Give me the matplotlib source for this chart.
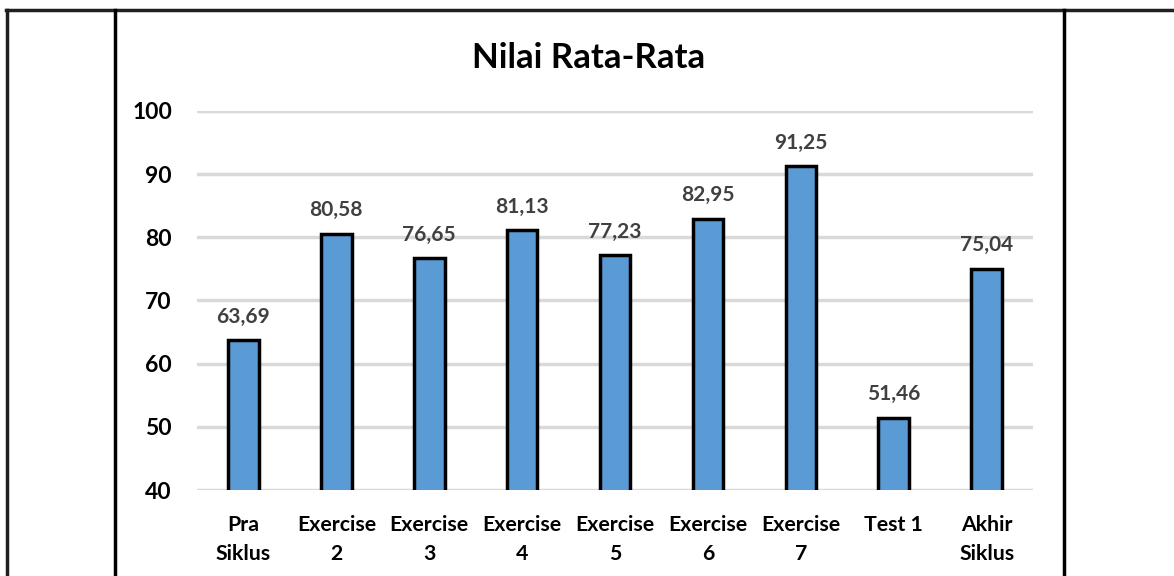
# Nilai Rata-Rata bar chart
import matplotlib.pyplot as plt
from matplotlib.lines import Line2D

# DATA
categories = ["Pra\nSiklus", "Exercise\n2", "Exercise\n3", "Exercise\n4", "Exercise\n5",
              "Exercise\n6", "Exercise\n7", "Test 1", "Akhir\nSiklus"]
values = [63.69, 80.58, 76.65, 81.13, 77.23, 82.95, 91.25, 51.46, 75.04]
yticks = [40, 50, 60, 70, 80, 90, 100]

plt.rcParams['font.family'] = ['Lato', 'DejaVu Sans']

fig = plt.figure(figsize=(11.74, 5.76), dpi=100)
ax = fig.add_axes([0.1678, 0.1493, 0.7122, 0.6580])

x = range(len(categories))
ax.bar(x, values, width=0.33, color="#5B9BD5", edgecolor="black", linewidth=2.5, zorder=3)

# data labels with comma decimals
for xi, v in zip(x, values):
    ax.text(xi, v + 2.1, f"{v:.2f}".replace(".", ","), ha="center", va="bottom",
            fontsize=15, fontweight="bold", color="#404040")

ax.set_ylim(40, 100)
ax.set_xlim(-0.5, len(categories) - 0.5)
ax.set_yticks(yticks)
ax.set_yticklabels([str(t) for t in yticks], fontsize=16.5, fontweight="bold")
ax.set_xticks(list(x))
ax.set_xticklabels(categories, fontsize=15.3, fontweight="bold", linespacing=1.55)
ax.tick_params(axis="y", length=0, pad=18)
ax.tick_params(axis="x", length=0, pad=18)
ax.yaxis.grid(True, color="#D9D9D9", linewidth=2.5, zorder=0)
ax.set_axisbelow(True)
for s in ax.spines.values():
    s.set_visible(False)

fig.text(0.5017, 0.899, "Nilai Rata-Rata", ha="center", va="center",
         fontsize=25, fontweight="bold")

# table cell borders around the chart
W, H = 1174, 576
fig.add_artist(Line2D([6 / W, 1], [1 - 10 / H, 1 - 10 / H], color="#231F20", linewidth=2.5))
fig.add_artist(Line2D([7 / W, 7 / W], [0, 1 - 10 / H], color="#231F20", linewidth=2.5))
fig.add_artist(Line2D([114.5 / W, 114.5 / W], [0, 1 - 10 / H], color="black", linewidth=2.5))
fig.add_artist(Line2D([1063.5 / W, 1063.5 / W], [0, 1 - 10 / H], color="black", linewidth=2.5))

fig.savefig("out.png", dpi=100)
